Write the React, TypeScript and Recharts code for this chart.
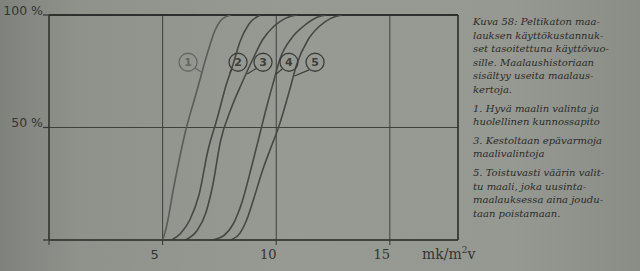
import {
  CartesianGrid,
  Line,
  LineChart,
  ReferenceDot,
  ReferenceLine,
  XAxis,
  YAxis,
} from "recharts";

// tick values + the labels printed under / beside them
const xTicks = [0, 5, 10, 15];
const xTickLabels = ["", "5", "10", "15"];
const yTicks = [0, 50, 100];
const yTickLabels = ["", "50 %", "100 %"];

// curves 1..5, cost (mk/m²v) vs cumulative share (%)
const curve1X = [5.0, 5.15, 5.5, 6.0, 6.5, 7.0, 7.3, 7.6, 8.0];
const curve1Y = [0, 5, 24, 48, 66, 84, 93, 98, 100];
const curve2X = [5.4, 5.8, 6.2, 6.6, 7.0, 7.4, 7.8, 8.1, 8.4, 8.8, 9.3];
const curve2Y = [0, 3, 9, 20, 40, 54, 69, 78, 88, 96, 100];
const curve3X = [6.0, 6.5, 6.9, 7.2, 7.55, 8.0, 8.5, 9.0, 9.4, 9.9, 10.4, 10.9];
const curve3Y = [0, 4, 12, 24, 44, 58, 70, 81, 89, 95, 98.5, 100];
const curve4X = [7.2, 7.7, 8.1, 8.5, 8.9, 9.3, 9.6, 9.9, 10.15, 10.7, 11.2, 11.8, 12.2];
const curve4Y = [0, 2, 7, 17, 32, 48, 60, 71, 80, 90, 95, 99, 100];
const curve5X = [8.0, 8.4, 8.7, 9.0, 9.4, 9.8, 10.1, 10.6, 10.9, 11.4, 11.9, 12.4, 12.9];
const curve5Y = [0, 3, 9, 18, 31, 42, 50, 67, 78, 89, 95, 98.5, 100];

// circled curve numbers and their little leader strokes
const markerNames = ["1", "2", "3", "4", "5"];
const markerX = [6.12, 8.32, 9.42, 10.56, 11.71];
const markerY = [79, 79, 79, 79, 79];
const leaderFrom = [[6.43, 76.4], [8.05, 76.0], [9.15, 76.4], [10.26, 76.0], [11.45, 75.6]];
const leaderTo = [[6.69, 74.7], [7.95, 74.2], [8.72, 73.8], [10.0, 73.8], [10.8, 72.9]];

const captionParagraphs = [
  [
    "Kuva 58: Peltikaton maa-",
    "lauksen käyttökustannuk-",
    "set tasoitettuna käyttövuo-",
    "sille. Maalaushistoriaan",
    "sisältyy useita maalaus-",
    "kertoja.",
  ],
  ["1. Hyvä maalin valinta ja", "huolellinen kunnossapito"],
  ["3. Kestoltaan epävarmoja", "maalivalintoja"],
  [
    "5. Toistuvasti väärin valit-",
    "tu maali, joka uusinta-",
    "maalauksessa aina joudu-",
    "taan poistamaan.",
  ],
];

const curves = [
  { x: curve1X, y: curve1Y, color: "#5b5c58" },
  { x: curve2X, y: curve2Y, color: "#474845" },
  { x: curve3X, y: curve3Y, color: "#474845" },
  { x: curve4X, y: curve4Y, color: "#474845" },
  { x: curve5X, y: curve5Y, color: "#474845" },
];

const ink = "#343532";
const sans = "'DejaVu Sans', sans-serif";
const serif = "'DejaVu Serif', serif";

const toPoints = (xs: number[], ys: number[]) => xs.map((x, i) => ({ x, y: ys[i] }));

const XTick = (props: any) => {
  const { x, y, payload } = props;
  const label = xTickLabels[xTicks.indexOf(payload.value)];
  if (!label) return <g />;
  return (
    <text
      x={x - 8}
      y={y}
      dy="0.71em"
      textAnchor="middle"
      fontFamily={payload.value === 5 ? sans : serif}
      fontSize={13}
      fill={ink}
    >
      {label}
    </text>
  );
};

const YTick = (props: any) => {
  const { x, y, payload } = props;
  const label = yTickLabels[yTicks.indexOf(payload.value)];
  if (!label) return <g />;
  return (
    <text x={x} y={y - 4} textAnchor="end" dominantBaseline="middle" fontFamily={sans} fontSize={12.5} fill={ink}>
      {label}
    </text>
  );
};

const markerShape = (name: string, light: boolean) => (props: any) => {
  const { cx, cy } = props;
  const c = light ? "#656662" : "#3d3e3b";
  return (
    <g>
      <circle cx={cx} cy={cy} r={9} fill="none" stroke={c} strokeWidth={1.3} />
      <text x={cx} y={cy + 0.5} textAnchor="middle" dominantBaseline="middle" fontFamily={sans} fontWeight={600} fontSize={11} fill={c}>
        {name}
      </text>
    </g>
  );
};

export default function App() {
  return (
    <div
      style={{
        position: "absolute",
        left: 0,
        top: 0,
        width: 640,
        height: 271,
        overflow: "hidden",
        background:
          "linear-gradient(90deg, #7f827c 0%, #8f918b 12%, #979993 45%, #969892 80%, #8a8c86 100%)",
      }}
    >
      <LineChart width={640} height={271} margin={{ top: 15, right: 182, bottom: 0, left: 0 }}>
        <CartesianGrid stroke="#3f403d" strokeWidth={1} />
        <XAxis
          type="number"
          dataKey="x"
          domain={[0, 18]}
          ticks={xTicks}
          allowDataOverflow
          height={31}
          tickSize={5}
          tickMargin={5}
          stroke={ink}
          axisLine={{ stroke: ink, strokeWidth: 1.4 }}
          tickLine={{ stroke: ink }}
          tick={<XTick />}
        />
        <YAxis
          type="number"
          domain={[0, 100]}
          ticks={yTicks}
          allowDataOverflow
          width={49}
          tickSize={6}
          tickMargin={0}
          axisLine={{ stroke: ink, strokeWidth: 1.4 }}
          tickLine={{ stroke: ink, strokeWidth: 1.2 }}
          tick={<YTick />}
        />
        <ReferenceLine y={100} stroke="#2f302d" strokeWidth={2} />
        <ReferenceLine x={18} stroke="#2f302d" strokeWidth={1.4} />
        {curves.map((c, i) => (
          <Line
            key={i}
            data={toPoints(c.x, c.y)}
            dataKey="y"
            type="monotone"
            dot={false}
            activeDot={false}
            stroke={c.color}
            strokeWidth={1.6}
            isAnimationActive={false}
          />
        ))}
        {markerNames.map((name, i) => (
          <ReferenceLine
            key={"l" + i}
            segment={[
              { x: leaderFrom[i][0], y: leaderFrom[i][1] },
              { x: leaderTo[i][0], y: leaderTo[i][1] },
            ]}
            stroke={i === 0 ? "#656662" : "#3d3e3b"}
            strokeWidth={1.2}
          />
        ))}
        {markerNames.map((name, i) => (
          <ReferenceDot
            key={"m" + i}
            x={markerX[i]}
            y={markerY[i]}
            r={9}
            shape={markerShape(name, i === 0)}
          />
        ))}
      </LineChart>

      <div
        style={{
          position: "absolute",
          left: 422,
          top: 246,
          fontFamily: serif,
          fontSize: 14,
          lineHeight: "16px",
          color: ink,
        }}
      >
        mk/m<sup style={{ fontSize: 9, verticalAlign: "6px", lineHeight: 0 }}>2</sup>v
      </div>

      <div
        style={{
          position: "absolute",
          left: 473,
          top: 15,
          width: 165,
          fontFamily: serif,
          fontStyle: "italic",
          fontSize: 10,
          lineHeight: "13.6px",
          color: "#2b2c29",
          whiteSpace: "nowrap",
        }}
      >
        {captionParagraphs.map((lines, i) => (
          <div key={i} style={{ marginTop: i === 0 ? 0 : 5 }}>
            {lines.map((line, j) => (
              <div key={j}>{line}</div>
            ))}
          </div>
        ))}
      </div>
    </div>
  );
}
